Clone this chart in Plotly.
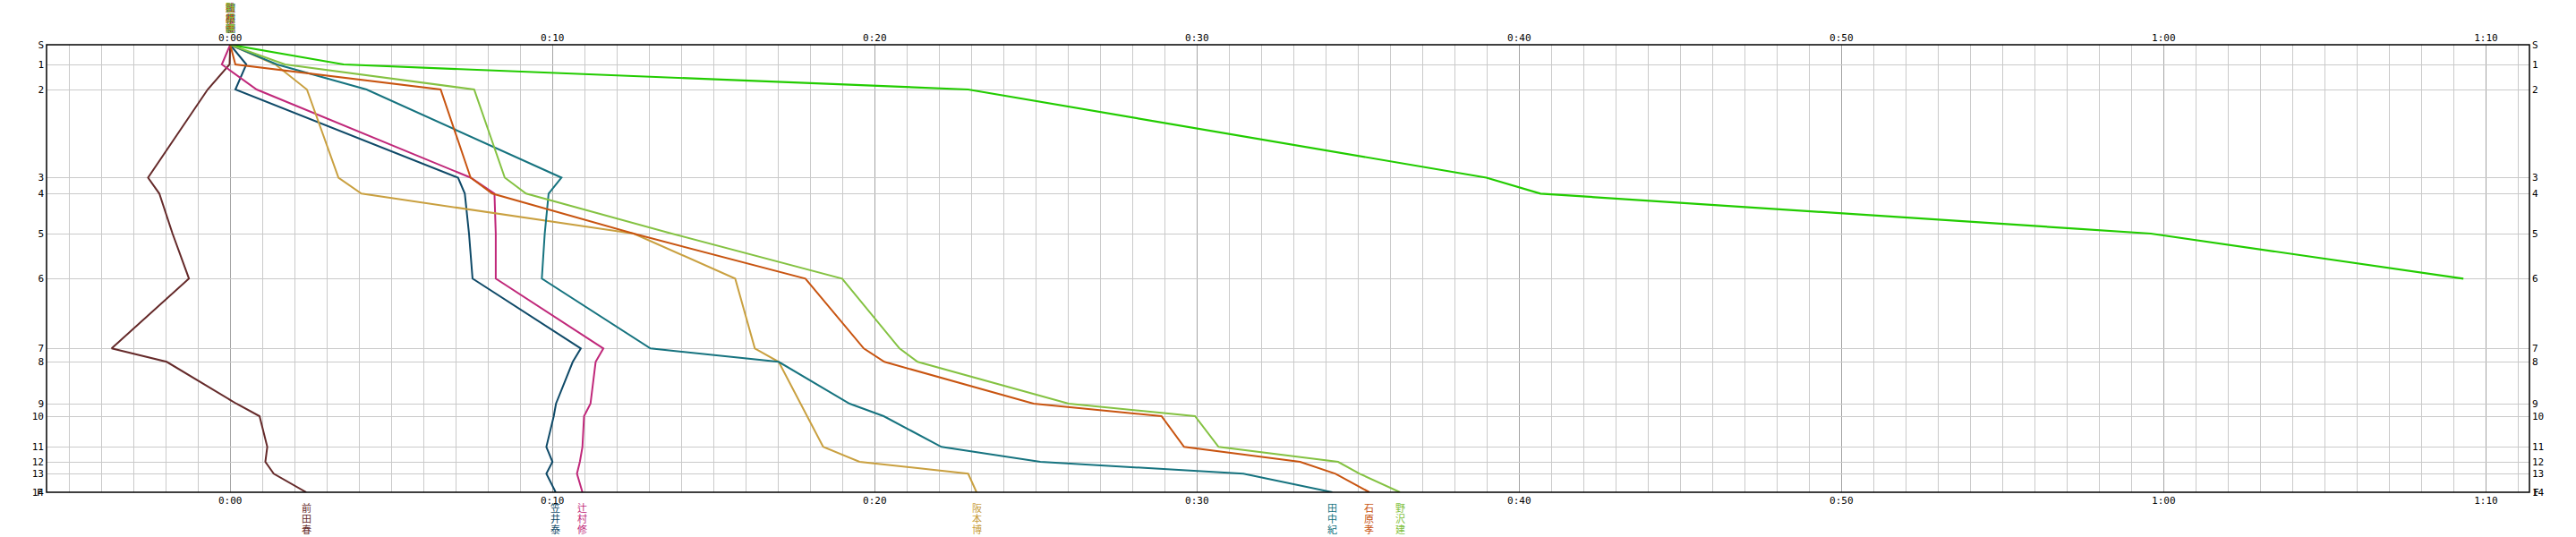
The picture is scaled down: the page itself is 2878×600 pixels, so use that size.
import plotly.graph_objects as go

# ---- data -------------------------------------------------------------
station_labels = ["S", "1", "2", "3", "4", "5", "6", "7", "8", "9", "10", "11", "12", "13", "14"]
station_dist = [0, 22, 50, 148.5, 166.3, 211, 261.3, 339.3, 354.3, 401, 415, 449.3, 466, 479.3, 500]

time_ticks = [0, 10, 20, 30, 40, 50, 60, 70]
time_labels = ["0:00", "0:10", "0:20", "0:30", "0:40", "0:50", "1:00", "1:10"]

runner_names = ["前田春", "笠井泰", "辻村修", "阪本博", "田中紀", "石原孝", "野沢建"]
runner_colors = ["#652a2a", "#0f4a68", "#c0287a", "#c9a040", "#16737f", "#c85410", "#84c242"]

maeda = [0, -0.02, -0.7, -2.55, -2.2, -1.79, -1.28, -3.68, -1.97, 0.19, 0.91, 1.15, 1.09, 1.35, 2.36]
kasai = [0, 0.5, 0.16, 7.07, 7.28, 7.41, 7.52, 10.88, 10.63, 10.11, 10.04, 9.81, 10.0, 9.81, 10.1]
tsujimura = [0, -0.26, 0.82, 7.46, 8.2, 8.24, 8.24, 11.58, 11.34, 11.18, 10.98, 10.93, 10.85, 10.76, 10.93]
sakamoto = [0, 1.4, 2.38, 3.36, 4.07, 12.52, 15.67, 16.28, 17.02, 17.69, 17.9, 18.4, 19.53, 22.9, 23.16]
tanaka = [0, 1.45, 4.23, 10.28, 9.88, 9.76, 9.67, 13.04, 17.02, 19.22, 20.28, 22.07, 25.14, 31.44, 34.2]
ishihara = [0, 0.16, 6.53, 7.46, 8.13, 12.52, 17.85, 19.66, 20.3, 24.93, 28.9, 29.6, 33.2, 34.3, 35.35]
nozawa = [0, 1.7, 7.57, 8.52, 9.18, 13.7, 18.99, 20.77, 21.33, 26.02, 29.94, 30.67, 34.38, 35.05, 36.3]
runner_values = [maeda, kasai, tsujimura, sakamoto, tanaka, ishihara, nozawa]

# unnamed runner (bright green) who stopped after control 6
green_values = [0, 3.52, 22.9, 38.98, 40.66, 59.6, 69.3]
green_color = "#22cc00"

# ---- figure -----------------------------------------------------------
W, H = 2878, 600
L, R, T, B = 52, 52, 50, 50
plot_h = H - T - B

fig = go.Figure()

fig.add_trace(go.Scatter(x=green_values, y=station_dist[:len(green_values)], mode="lines",
                         line=dict(color=green_color, width=2.2), hoverinfo="skip", showlegend=False))
for name, col, vals in zip(runner_names, runner_colors, runner_values):
    fig.add_trace(go.Scatter(x=vals, y=station_dist, mode="lines", name=name,
                             line=dict(color=col, width=2), hoverinfo="skip", showlegend=False))
# invisible trace to activate secondary axes
fig.add_trace(go.Scatter(x=[0], y=[0], xaxis="x2", yaxis="y2", mode="markers",
                         marker=dict(opacity=0), hoverinfo="skip", showlegend=False))

tickfont = dict(family="DejaVu Sans Mono", size=11, color="#000000")
name_font = "Noto Sans CJK JP"

xr = [-5.70, 71.35]
fig.update_layout(
    template="none",
    width=W, height=H,
    margin=dict(l=L, r=R, t=T, b=B, pad=0, autoexpand=False),
    paper_bgcolor="white", plot_bgcolor="white",
    xaxis=dict(range=xr, tickvals=time_ticks, ticktext=time_labels, tickfont=tickfont,
               showgrid=True, gridcolor="#a4a4a4", gridwidth=1, zeroline=False,
               ticks="", ticklabelstandoff=1, automargin=False,
               minor=dict(tickvals=list(range(-5, 72)), showgrid=True, gridcolor="#cacaca", gridwidth=1),
               showline=False),
    xaxis2=dict(range=xr, overlaying="x", side="top", matches="x", tickvals=time_ticks,
                ticktext=time_labels, tickfont=tickfont, showgrid=False, zeroline=False, ticks="",
                ticklabelstandoff=1, showline=False, automargin=False),
    yaxis=dict(range=[500, 0], tickvals=station_dist, ticktext=station_labels, tickfont=tickfont,
               showgrid=True, gridcolor="#cacaca", gridwidth=1, zeroline=False, ticks="",
               ticklabelstandoff=2, showline=False, automargin=False),
    yaxis2=dict(range=[500, 0], overlaying="y", side="right", matches="y", tickvals=station_dist,
                ticktext=station_labels, tickfont=tickfont, showgrid=False, zeroline=False,
                ticks="", ticklabelstandoff=2, showline=False, automargin=False),
)

# frame
fig.add_shape(type="rect", xref="paper", yref="paper", x0=0, x1=1, y0=0, y1=1,
              line=dict(color="black", width=1.5), fillcolor="rgba(0,0,0,0)", layer="above")

annotations = []
# "F" overlapping the "14" labels
annotations.append(dict(text="F", xref="paper", yref="y", x=0, y=500, xanchor="right", yanchor="middle",
                        xshift=-2, showarrow=False, font=tickfont))
annotations.append(dict(text="F", xref="paper", yref="y", x=1, y=500, xanchor="left", yanchor="middle",
                        xshift=2, showarrow=False, font=tickfont))


def px_to_paper(ypx):
    return (H - B - ypx) / plot_h


# vertical names under the finish positions
char_px = [567, 579, 591]
for name, col, vals in zip(runner_names, runner_colors, runner_values):
    for ch, ypx in zip(name, char_px):
        annotations.append(dict(text=ch, x=vals[-1], xref="x", y=px_to_paper(ypx), yref="paper",
                                xanchor="center", yanchor="middle", showarrow=False,
                                font=dict(family=name_font, size=11, color=col)))

# overlapping names at the start (top)
top_px = [8, 19.5, 31]
for name, col in zip(runner_names, runner_colors):
    for ch, ypx in zip(name, top_px):
        annotations.append(dict(text=ch, x=0, xref="x", y=px_to_paper(ypx), yref="paper",
                                xanchor="center", yanchor="middle", showarrow=False,
                                font=dict(family=name_font, size=11, color=col)))

fig.update_layout(annotations=annotations)

fig.write_html("out.html",
               config={"displayModeBar": False, "staticPlot": True},
               post_script="document.body.style.margin='0';document.body.style.padding='0';"
                           "document.body.style.overflow='hidden';")
